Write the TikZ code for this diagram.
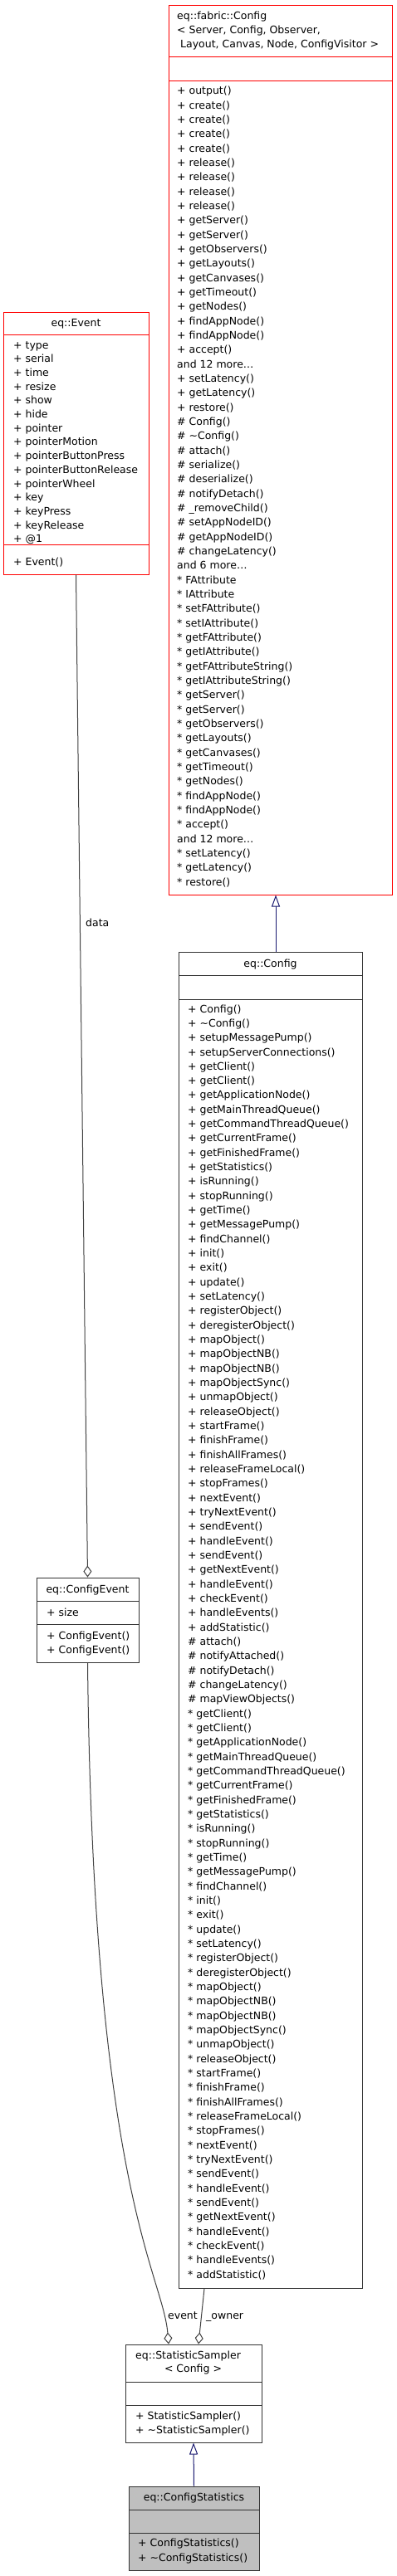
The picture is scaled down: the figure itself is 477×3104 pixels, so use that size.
\documentclass[tikz,border=0pt]{standalone}
\usepackage{fontspec}
\setmainfont{DejaVu Sans}
\usepackage{xcolor}
\usetikzlibrary{arrows.meta}

\definecolor{edgegray}{HTML}{404040}
\definecolor{inhblue}{HTML}{191970}
\definecolor{selgray}{HTML}{BFBFBF}

\tikzset{
  classbox/.style={draw=black!80, line width=1pt, inner sep=0pt},
  redbox/.style={classbox, draw=red},
  member/.style={anchor=base west, inner sep=0pt, font=\fontsize{12.5}{15}\selectfont},
  ctitle/.style={member, anchor=base},
  inherit/.style={draw=inhblue, line width=1pt, -{Triangle[open, length=14pt, width=10pt]}},
  usedby/.style={draw=edgegray, line width=1pt, -{Diamond[open, length=14pt, width=10pt]}},
}

\begin{document}
\begin{tikzpicture}[x=1pt, y=-1pt]
    \fill[white] (0,0) rectangle (477,3104);
    \useasboundingbox (0,0) rectangle (477,3104);

    % eq::fabric::Config
    \node[redbox, minimum width=269pt, minimum height=1071pt] (fabcfg) at (337.5,542.5) {};
    \draw[red, line width=1pt] (203,69) -- (472,69);
    \draw[red, line width=1pt] (203,98) -- (472,98);
    \node[member] (fabt1) at (213,24) {eq::fabric::Config};
    \node[member] (fabt2) at (213,41) {< Server, Config, Observer,};
    \node[member] (fabt3) at (217,58) {Layout, Canvas, Node, ConfigVisitor >};
    \foreach \m [count=\i from 0] in {+ output(), + create(), + create(), + create(), + create(),
        + release(), + release(), + release(), + release(), + getServer(), + getServer(),
        + getObservers(), + getLayouts(), + getCanvases(), + getTimeout(), + getNodes(),
        + findAppNode(), + findAppNode(), + accept(), and 12 more\ldots,
        + setLatency(), + getLatency(), + restore(),
        \# Config(), \# \textasciitilde Config(), \# attach(), \# serialize(), \# deserialize(),
        \# notifyDetach(), \# \_removeChild(), \# setAppNodeID(), \# getAppNodeID(),
        \# changeLatency(), and 6 more\ldots,
        * FAttribute, * IAttribute, * setFAttribute(), * setIAttribute(), * getFAttribute(),
        * getIAttribute(), * getFAttributeString(), * getIAttributeString(), * getServer(),
        * getServer(), * getObservers(), * getLayouts(), * getCanvases(), * getTimeout(),
        * getNodes(), * findAppNode(), * findAppNode(), * accept(), and 12 more\ldots,
        * setLatency(), * getLatency(), * restore()}
        \node[member] (fm\i) at (213,114+17.33*\i) {\m};

    % eq::Event
    \node[redbox, minimum width=175pt, minimum height=316pt] (event) at (91.5,534) {};
    \draw[red, line width=1pt] (4,403) -- (179,403);
    \draw[red, line width=1pt] (4,656) -- (179,656);
    \node[ctitle] (eventt) at (91.5,393) {eq::Event};
    \foreach \m [count=\i from 0] in {+ type, + serial, + time, + resize, + show, + hide,
        + pointer, + pointerMotion, + pointerButtonPress, + pointerButtonRelease,
        + pointerWheel, + key, + keyPress, + keyRelease, + @1}
        \node[member] (ea\i) at (16,420+16.71*\i) {\m};
    \node[member] (em0) at (16,681) {+ Event()};

    % eq::Config
    \node[classbox, minimum width=221pt, minimum height=1610pt] (cfg) at (325.5,1952) {};
    \draw[black!80, line width=1pt] (215,1175) -- (436,1175);
    \draw[black!80, line width=1pt] (215,1204) -- (436,1204);
    \node[ctitle] (cfgt) at (325.5,1165) {eq::Config};
    \foreach \m [count=\i from 0] in {+ Config(), + \textasciitilde Config(), + setupMessagePump(),
        + setupServerConnections(), + getClient(), + getClient(), + getApplicationNode(),
        + getMainThreadQueue(), + getCommandThreadQueue(), + getCurrentFrame(),
        + getFinishedFrame(), + getStatistics(), + isRunning(), + stopRunning(), + getTime(),
        + getMessagePump(), + findChannel(), + init(), + exit(), + update(), + setLatency(),
        + registerObject(), + deregisterObject(), + mapObject(), + mapObjectNB(),
        + mapObjectNB(), + mapObjectSync(), + unmapObject(), + releaseObject(),
        + startFrame(), + finishFrame(), + finishAllFrames(), + releaseFrameLocal(),
        + stopFrames(), + nextEvent(), + tryNextEvent(), + sendEvent(), + handleEvent(),
        + sendEvent(), + getNextEvent(), + handleEvent(), + checkEvent(), + handleEvents(),
        + addStatistic(),
        \# attach(), \# notifyAttached(), \# notifyDetach(), \# changeLatency(),
        \# mapViewObjects(),
        * getClient(), * getClient(), * getApplicationNode(), * getMainThreadQueue(),
        * getCommandThreadQueue(), * getCurrentFrame(), * getFinishedFrame(),
        * getStatistics(), * isRunning(), * stopRunning(), * getTime(), * getMessagePump(),
        * findChannel(), * init(), * exit(), * update(), * setLatency(), * registerObject(),
        * deregisterObject(), * mapObject(), * mapObjectNB(), * mapObjectNB(),
        * mapObjectSync(), * unmapObject(), * releaseObject(), * startFrame(),
        * finishFrame(), * finishAllFrames(), * releaseFrameLocal(), * stopFrames(),
        * nextEvent(), * tryNextEvent(), * sendEvent(), * handleEvent(), * sendEvent(),
        * getNextEvent(), * handleEvent(), * checkEvent(), * handleEvents(),
        * addStatistic()}
        \node[member] (cm\i) at (226,1220+17.33*\i) {\m};

    % eq::ConfigEvent
    \node[classbox, minimum width=123pt, minimum height=102pt] (cevent) at (105.5,1952) {};
    \draw[black!80, line width=1pt] (44,1929) -- (167,1929);
    \draw[black!80, line width=1pt] (44,1957) -- (167,1957);
    \node[ctitle] (ceventt) at (105.5,1919) {eq::ConfigEvent};
    \node[member] (cea0) at (56,1947) {+ size};
    \node[member] (cem0) at (56,1975) {+ ConfigEvent()};
    \node[member] (cem1) at (56,1992) {+ ConfigEvent()};

    % eq::StatisticSampler< Config >
    \node[classbox, minimum width=164pt, minimum height=118pt] (sampler) at (233,2884) {};
    \draw[black!80, line width=1pt] (151,2870) -- (315,2870);
    \draw[black!80, line width=1pt] (151,2898) -- (315,2898);
    \node[member] (samplert1) at (163,2842) {eq::StatisticSampler};
    \node[ctitle] (samplert2) at (232.5,2858) {< Config >};
    \node[member] (sm0) at (163,2915) {+ StatisticSampler()};
    \node[member] (sm1) at (163,2932) {+ \textasciitilde StatisticSampler()};

    % eq::ConfigStatistics
    \node[classbox, fill=selgray, minimum width=157pt, minimum height=101pt] (cstat) at (233.5,3046.5) {};
    \draw[black!80, line width=1pt] (155,3024) -- (312,3024);
    \draw[black!80, line width=1pt] (155,3052) -- (312,3052);
    \node[ctitle] (cstatt) at (233.5,3013) {eq::ConfigStatistics};
    \node[member] (csm0) at (166,3068) {+ ConfigStatistics()};
    \node[member] (csm1) at (166,3086) {+ \textasciitilde ConfigStatistics()};

    % Arrows
    \draw[inherit] ([xshift=6.5pt]cfg.north) -- ([xshift=-5.5pt]fabcfg.south);
    \draw[inherit] (cstat.north) -- (sampler.south);
    \draw[usedby] (event.south) -- (cevent.north);
    \draw[usedby] (cevent.south) .. controls (112,2640) and (196,2740) .. ([xshift=-30pt]sampler.north);
    \draw[usedby] ([xshift=-79.5pt]cfg.south) -- ([xshift=6pt]sampler.north);

    % Labels
    \node[member] (datalbl) at (103,1116) {data};
    \node[member] (eventlbl) at (202,2794) {event};
    \node[member] (ownerlbl) at (248,2794) {\_owner};
\end{tikzpicture}
\end{document}
